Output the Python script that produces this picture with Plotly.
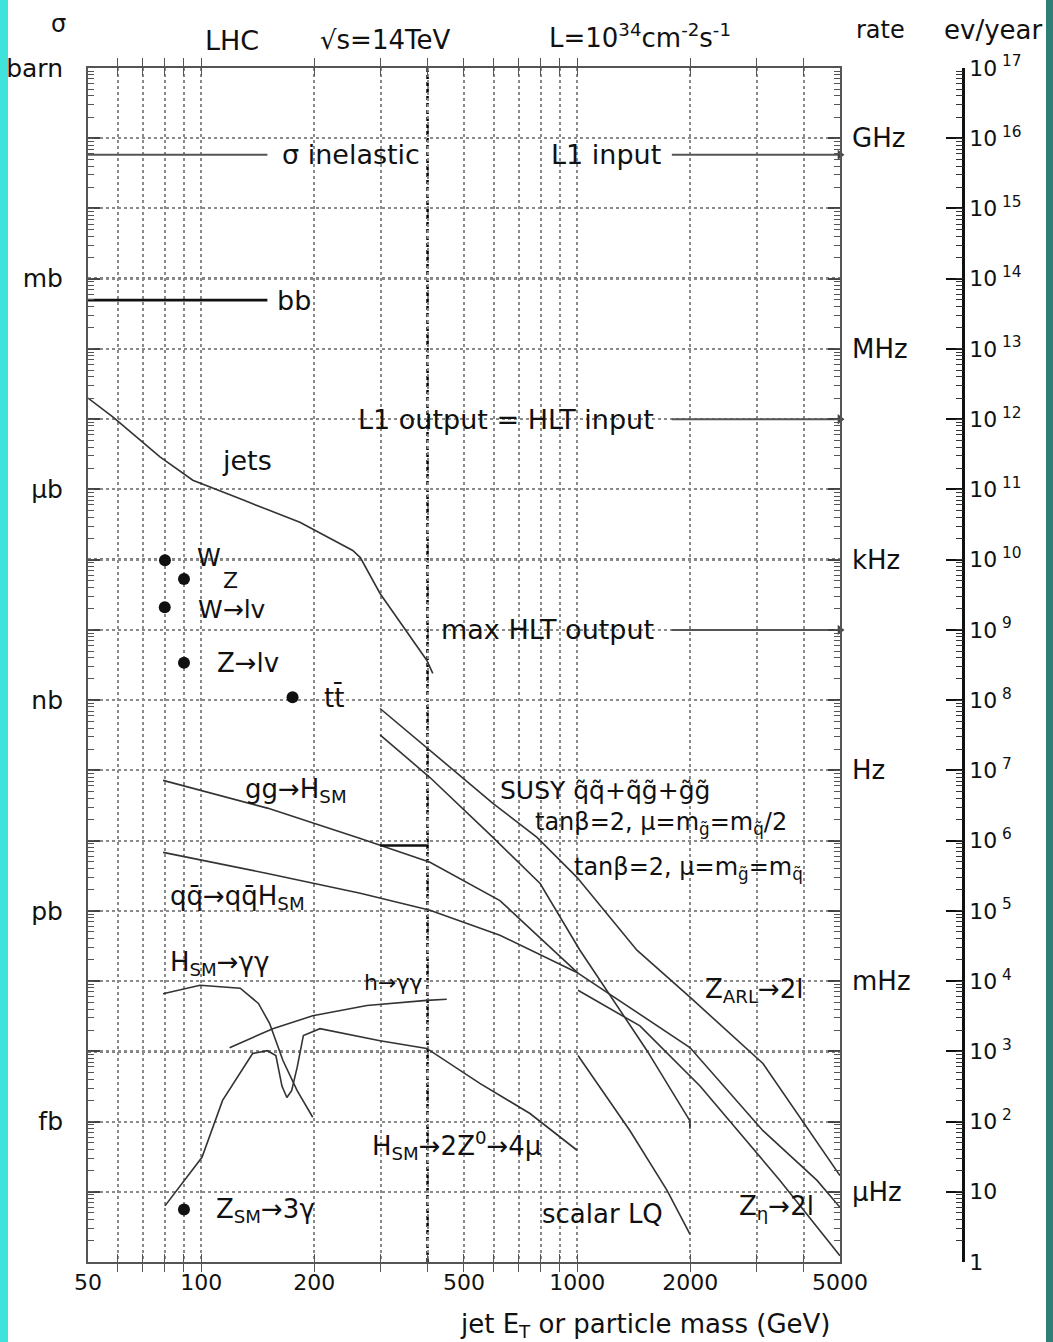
import math
import plotly.graph_objects as go

# ---------------- data (x: GeV, y: events / year at L=1e34) ----------------
jets_x = [50, 58.3, 77.7, 95, 129, 183, 253, 265, 299, 398, 413]
jets_y = [2.0e12, 1.07e12, 2.9e11, 1.35e11, 7.1e10, 3.4e10, 1.35e10, 1.07e10, 3.3e9, 3.7e8, 2.4e8]

ggH_x = [79.2, 150, 265, 406, 623, 1005]
ggH_y = [7.2e6, 2.9e6, 1.07e6, 4.9e5, 1.4e5, 1.3e4]

qqH_x = [79.2, 150, 265, 406, 623, 1005]
qqH_y = [6.8e5, 3.4e5, 1.78e5, 1.02e5, 4.5e4, 1.3e4]

seg_x = [299, 400]
seg_y = [8.5e5, 8.5e5]

Hgg_x = [79.2, 99.3, 127, 142, 152, 165, 180, 198]
Hgg_y = [6.6e3, 8.7e3, 7.9e3, 4.8e3, 2.5e3, 740, 275, 115]

H4l_x = [80.1, 100.5, 114, 137, 150, 158, 164, 169, 174, 180, 187, 207, 299, 398, 551, 749, 999]
H4l_y = [6.3, 31, 200, 930, 1020, 870, 320, 220, 275, 590, 1680, 2100, 1410, 1100, 350, 130, 39]

hgg_x = [119, 155, 198, 276, 398, 450]
hgg_y = [1.12e3, 2.1e3, 3.2e3, 4.5e3, 5.3e3, 5.5e3]

susy1_x = [299, 406, 597, 782, 999, 1442, 1995, 3120, 5000]
susy1_y = [7.6e7, 1.93e7, 3.4e6, 1.11e6, 3.0e5, 2.75e4, 5.9e3, 670, 17]

susy2_x = [299, 406, 597, 797, 1017, 1534, 1995, 1995]
susy2_y = [3.2e7, 7.9e6, 1.11e6, 2.45e5, 2.75e4, 1.02e3, 102, 79]

zarl_x = [1005, 1995, 3120, 4345, 5000]
zarl_y = [1.3e4, 1.13e3, 74, 14.5, 6.0]

zeta_x = [1005, 1469, 2122, 3462, 5000]
zeta_y = [7.4e3, 2.3e3, 320, 14.5, 1.23]

lq_x = [1005, 1382, 1734, 1995]
lq_y = [870, 74, 10.5, 2.5]

# rate levels
sig_inel = 5.8e15
bb_level = 4.95e13
l1_out = 1.0e12
hlt_max = 1.0e9
left_seg_x = [50, 150]
right_seg_x = [1786, 5000]

# single points
pt_names = ["W", "Z", "W->lv", "Z->lv", "tt", "Z->3g"]
pt_x = [80.1, 90, 80, 90, 175, 90]
pt_y = [9.8e9, 5.3e9, 2.1e9, 3.4e8, 1.1e8, 5.6]

# axis ticks
x_tickvals = [50, 60, 70, 80, 90, 100, 200, 300, 400, 500, 600, 700, 800, 900,
              1000, 2000, 3000, 4000, 5000]
x_ticklabels = ["50", "", "", "", "", "100", "200", "", "", "500", "", "", "", "",
                "1000", "2000", "", "", "5000"]
decades = [10.0 ** k for k in range(0, 18)]
sigma_labels = {17: "barn", 14: "mb", 11: "µb", 8: "nb", 5: "pb", 2: "fb"}
left_text = [sigma_labels.get(k, "") for k in range(0, 18)]
right_text = ["1", "10"] + ["10<sup> %d</sup>" % k for k in range(2, 18)]
rate_names = ["GHz", "MHz", "kHz", "Hz", "mHz", "µHz"]
rate_vals = [1e16, 1e13, 1e10, 1e7, 1e4, 1e1]
heavy_levels = [1e14, 1e10, 1e3]

# ---------------- figure ----------------
FONT = "DejaVu Sans, Liberation Sans, Arial, sans-serif"
TXT = "#111111"
CURVE = "#333333"
XDOM = 0.8309
L = math.log10
fig = go.Figure()


def curve(x, y, w=1.6, c=CURVE):
    fig.add_trace(go.Scatter(x=x, y=y, mode="lines", line=dict(color=c, width=w),
                             showlegend=False, hoverinfo="skip"))


curve(jets_x, jets_y)
curve(ggH_x, ggH_y)
curve(qqH_x, qqH_y)
curve(seg_x, seg_y, w=2.6, c="#111")
curve(Hgg_x, Hgg_y)
curve(H4l_x, H4l_y)
curve(hgg_x, hgg_y)
curve(susy1_x, susy1_y)
curve(susy2_x, susy2_y)
curve(zarl_x, zarl_y)
curve(zeta_x, zeta_y)
curve(lq_x, lq_y)

curve(left_seg_x, [sig_inel, sig_inel], w=2, c="#555")
curve(right_seg_x, [sig_inel, sig_inel], w=2, c="#555")
curve(left_seg_x, [bb_level, bb_level], w=2.6, c="#111")
curve(right_seg_x, [l1_out, l1_out], w=2, c="#555")
curve(right_seg_x, [hlt_max, hlt_max], w=2, c="#555")

# small arrow heads at the frame for the trigger-rate lines
fig.add_trace(go.Scatter(x=[right_seg_x[1]] * 3, y=[sig_inel, l1_out, hlt_max],
                         mode="markers", marker=dict(symbol="triangle-right", size=9,
                                                     color="#444"),
                         showlegend=False, hoverinfo="skip", cliponaxis=False))

fig.add_trace(go.Scatter(x=pt_x, y=pt_y, mode="markers", text=pt_names,
                         marker=dict(color="#111", size=12), showlegend=False,
                         hoverinfo="skip"))

# dummy traces for auxiliary axes
for ax in ["y2", "y3", "y4"]:
    fig.add_trace(go.Scatter(x=[None], y=[None], yaxis=ax, showlegend=False,
                             hoverinfo="skip"))


def lab(x, y, t, size=26, anchor="left"):
    fig.add_annotation(x=L(x), y=L(y), xref="x", yref="y", text=t, showarrow=False,
                       xanchor=anchor, yanchor="middle",
                       font=dict(family=FONT, size=size, color=TXT))


lab(162, sig_inel, "σ inelastic", 27)
lab(840, sig_inel, "L1 input", 27)
lab(157, bb_level, "bb", 27)
lab(112, 2.6e11, "jets", 27)
lab(258, l1_out, "L1 output = HLT input", 27)
lab(430, hlt_max, "max HLT output", 27)
lab(96, 1.05e10, "W", 24)
lab(113, 5.1e9, "Z", 22)
lab(97, 1.95e9, "W→lv", 25)
lab(109, 3.4e8, "Z→lv", 26)
lab(209, 1.1e8, "tt̄", 26)
lab(129, 5.2e6, "gg→H<sub>SM</sub>", 26)
lab(81.6, 1.55e5, "qq̄→qq̄H<sub>SM</sub>", 26)
lab(81.6, 1.78e4, "H<sub>SM</sub>→γγ", 26)
lab(324, 9.5e3, "h→γγ", 22, anchor="center")
lab(281, 46, "H<sub>SM</sub>→2Z<sup>0</sup>→4μ", 26)
lab(108, 5.5, "Z<sub>SM</sub>→3γ", 26)
lab(615, 5.2e6, "SUSY q̃q̃+q̃g̃+g̃g̃", 25)
lab(763, 1.76e6, "tanβ=2, μ=m<sub>g̃</sub>=m<sub>q̃</sub>/2", 24)
lab(969, 4.0e5, "tanβ=2, μ=m<sub>g̃</sub>=m<sub>q̃</sub>", 24)
lab(2162, 7.4e3, "Z<sub>ARL</sub>→2l", 26)
lab(797, 4.9, "scalar LQ", 26)
lab(2661, 6.0, "Z<sub>η</sub>→2l", 26)

# rate labels right of frame
for n, v in zip(rate_names, rate_vals):
    fig.add_annotation(x=(850 - 88) / 905, y=L(v), xref="paper", yref="y", text=n,
                       showarrow=False, xanchor="left", yanchor="middle",
                       font=dict(family=FONT, size=26, color=TXT))


def ptxt(px, py, t, size=26, anchor="center"):
    fig.add_annotation(x=(px - 88) / 905, y=(1262 - py) / 1194, xref="paper",
                       yref="paper", text=t, showarrow=False, xanchor=anchor,
                       yanchor="middle", font=dict(family=FONT, size=size, color=TXT))


ptxt(58, 24, "σ", 24)
ptxt(232, 40, "LHC", 27)
ptxt(385, 40, "√s=14TeV", 26)
ptxt(640, 36, "L=10<sup>34</sup>cm<sup>-2</sup>s<sup>-1</sup>", 26)
ptxt(880, 30, "rate", 24)
ptxt(993, 30, "ev/year", 26)
ptxt(645, 1325, "jet E<sub>T</sub> or particle mass (GeV)", 26)

# special lines
fig.add_shape(type="line", xref="x", yref="paper", x0=400, x1=400, y0=0, y1=1,
              line=dict(color="#000", width=2.5, dash="4px,3px"), layer="below")
for v in heavy_levels:
    fig.add_shape(type="line", xref="paper", yref="y", x0=0, x1=XDOM, y0=v, y1=v,
                  line=dict(color="#000", width=2.2, dash="3px,3px"), layer="below")

# cyan borders
fig.add_shape(type="rect", xref="paper", yref="paper", x0=-88 / 905, x1=-80 / 905,
              y0=-80 / 1194, y1=1 + 68 / 1194, line=dict(width=0), fillcolor="#3fe3dc")
fig.add_shape(type="rect", xref="paper", yref="paper", x0=(1046 - 88) / 905,
              x1=(1053 - 88) / 905, y0=-80 / 1194, y1=1 + 68 / 1194,
              line=dict(width=0), fillcolor="#2f7f78")

tickfont = dict(family=FONT, size=22, color=TXT)
fig.update_layout(
    width=1053, height=1342, paper_bgcolor="white", plot_bgcolor="white",
    margin=dict(l=88, r=60, t=68, b=80, autoexpand=False),
    xaxis=dict(type="log", range=[L(50), L(5000)], domain=[0, XDOM],
               tickmode="array", tickvals=x_tickvals, ticktext=x_ticklabels,
               ticks="inside", ticklen=8, tickcolor="#555", mirror="allticks",
               showline=True, linecolor="#555", linewidth=2, automargin=False,
               showgrid=True, gridcolor="#8a8a8a", griddash="dot", gridwidth=1.5,
               tickfont=tickfont, zeroline=False),
    yaxis=dict(type="log", range=[0, 17], tickmode="array", tickvals=decades,
               ticktext=left_text, ticks="inside", ticklen=12, tickwidth=2,
               tickcolor="#444", mirror="allticks", showline=True, linecolor="#555",
               linewidth=2, showgrid=True, gridcolor="#8a8a8a", griddash="dot",
               gridwidth=1.5, tickfont=dict(family=FONT, size=25, color=TXT),
               ticklabelstandoff=18, automargin=False),
    yaxis3=dict(type="log", range=[0, 17], overlaying="y", anchor="x", side="left",
                dtick="D1", ticks="inside", ticklen=6, tickcolor="#555",
                showticklabels=False, showgrid=False, mirror="allticks",
                showline=False, automargin=False),
    yaxis2=dict(type="log", range=[0, 17], overlaying="y", anchor="free",
                position=(963 - 88) / 905, side="right", tickmode="array",
                tickvals=decades, ticktext=right_text, ticks="inside", ticklen=16,
                tickwidth=2, tickcolor="#111", showline=True, linecolor="#111",
                linewidth=2.5, showgrid=False, automargin=False,
                tickfont=dict(family=FONT, size=22, color=TXT)),
    yaxis4=dict(type="log", range=[0, 17], overlaying="y", anchor="free",
                position=(963 - 88) / 905, side="right", dtick="D1", ticks="inside",
                ticklen=7, tickcolor="#333", showticklabels=False, showgrid=False,
                showline=False, automargin=False),
)

fig.write_html("out.html")
